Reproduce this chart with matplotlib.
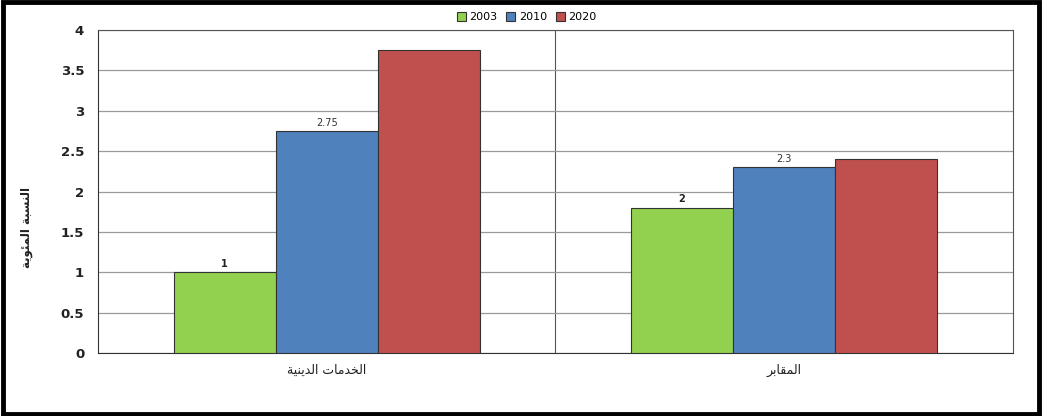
import numpy as np
import matplotlib
matplotlib.use("Agg")
import matplotlib.pyplot as plt
from matplotlib.patches import Rectangle

# Arabic text pre-shaped into presentation forms (visual order, left to right)
categories = ["\uFE94\uFEF4\uFEE8\uFEF3\uFEAA\uFEDF\uFE8D \uFE95\uFE8E\uFEE3\uFEAA\uFEA8\uFEDF\uFE8D",  # الخدمات الدينية
              "\uFEAE\uFE91\uFE8E\uFED8\uFEE4\uFEDF\uFE8D"]  # المقابر
ylabel = "\uFE94\uFEF3\uFEEE\uFE8C\uFEE4\uFEDF\uFE8D \uFE94\uFE92\uFEB4\uFEE8\uFEDF\uFE8D"  # النسبة المئوية
series = ["2003", "2010", "2020"]
v2003 = [1.0, 1.8]
v2010 = [2.75, 2.3]
v2020 = [3.75, 2.4]
labels2003 = ["1", "2"]
labels2010 = ["2.75", "2.3"]
colors = ["#92D050", "#4F81BD", "#C0504D"]

fig = plt.figure(figsize=(10.43, 4.16), dpi=100)
ax = fig.add_axes([0.094, 0.151, 0.877, 0.777])

x = np.arange(len(categories))
w = 0.223
vals = [v2003, v2010, v2020]
bars = []
for i, (name, v, c) in enumerate(zip(series, vals, colors)):
    b = ax.bar(x + (i - 1) * w, v, w, color=c, edgecolor="#333333", linewidth=0.8,
               label=name, zorder=3)
    bars.append(b)

for rect, lab in zip(bars[0], labels2003):
    ax.text(rect.get_x() + rect.get_width() / 2, rect.get_height() + 0.04, lab,
            ha="center", va="bottom", fontsize=7, fontweight="bold", color="#222222")
for rect, lab in zip(bars[1], labels2010):
    ax.text(rect.get_x() + rect.get_width() / 2, rect.get_height() + 0.04, lab,
            ha="center", va="bottom", fontsize=7, color="#333333")

ax.set_xlim(-0.5, 1.5)
ax.set_ylim(0, 4)
ax.set_yticks(np.arange(0, 4.01, 0.5))
ax.set_yticklabels(["0", "0.5", "1", "1.5", "2", "2.5", "3", "3.5", "4"],
                   fontsize=9.5, fontweight="bold", color="#222222")
ax.set_xticks(x)
ax.set_xticklabels(categories, fontsize=9, color="#222222")
ax.tick_params(axis="x", length=0, pad=8)
ax.tick_params(axis="y", length=0, pad=10)
ax.grid(axis="y", color="#999999", linewidth=0.9, zorder=0)
ax.axvline(0.5, color="#555555", linewidth=0.8, zorder=1)
for s in ax.spines.values():
    s.set_color("#555555")
    s.set_linewidth(0.8)
ax.spines["left"].set_color("#333333")
ax.spines["bottom"].set_color("#333333")

ax.set_ylabel(ylabel, fontsize=8.5, fontweight="bold", color="#222222")
ax.yaxis.set_label_coords(-0.071, 0.39)

leg = fig.legend(loc="upper center", bbox_to_anchor=(0.505, 0.995), ncol=3, frameon=False,
                 fontsize=8, handlelength=0.8, handleheight=0.8, handletextpad=0.3,
                 columnspacing=0.8)

fig.patches.append(Rectangle((0.003, 0.006), 0.993, 0.988, transform=fig.transFigure,
                             fill=False, edgecolor="black", linewidth=3.5))

fig.savefig("out.png", dpi=100)
